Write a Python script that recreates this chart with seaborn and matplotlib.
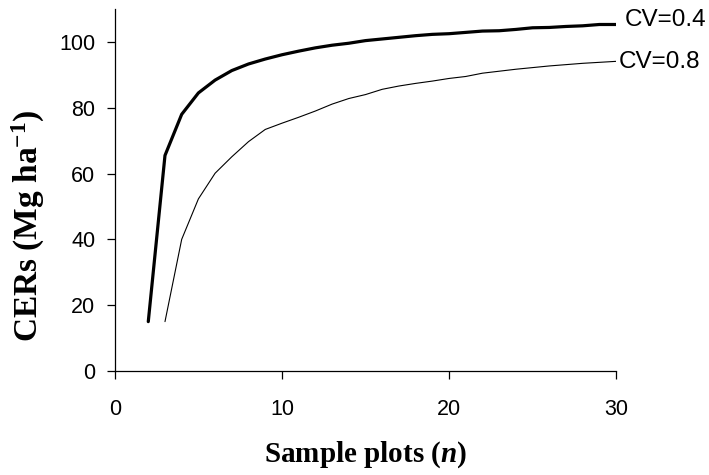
import matplotlib
matplotlib.use("Agg")
import matplotlib.pyplot as plt
import seaborn as sns
import pandas as pd

# Data
n_cv04 = list(range(2, 31))
cers_cv04 = [15, 65.5, 78, 84.5, 88.4, 91.3, 93.3, 94.8, 96.1, 97.2, 98.2, 99.0,
             99.6, 100.4, 100.9, 101.4, 101.9, 102.3, 102.5, 102.9, 103.3, 103.4,
             103.8, 104.3, 104.4, 104.7, 104.9, 105.3, 105.3]
n_cv08 = list(range(3, 31))
cers_cv08 = [15, 40, 52.3, 60.1, 65.1, 69.7, 73.4, 75.3, 77.1, 79.0, 81.1, 82.8,
             84.0, 85.6, 86.6, 87.4, 88.1, 88.9, 89.5, 90.5, 91.1, 91.7, 92.2,
             92.7, 93.1, 93.5, 93.8, 94.1]
series_labels = ["CV=0.4", "CV=0.8"]
x_ticks = [0, 10, 20, 30]
y_ticks = [0, 20, 40, 60, 80, 100]

sns.set_theme(style="ticks")
plt.rcParams["font.family"] = ["Liberation Sans", "DejaVu Sans"]
plt.rcParams["text.color"] = "black"
plt.rcParams["axes.labelcolor"] = "black"
plt.rcParams["mathtext.fontset"] = "custom"
plt.rcParams["mathtext.rm"] = "Liberation Serif:bold"
plt.rcParams["mathtext.bf"] = "Liberation Serif:bold"
plt.rcParams["mathtext.it"] = "Liberation Serif:bold:italic"

df04 = pd.DataFrame({"n": n_cv04, "CERs": cers_cv04})
df08 = pd.DataFrame({"n": n_cv08, "CERs": cers_cv08})

fig = plt.figure(figsize=(7.09, 4.75), dpi=100)
ax = fig.add_axes([0.162, 0.219, 0.707, 0.762])

sns.lineplot(data=df04, x="n", y="CERs", ax=ax, color="black", linewidth=2.3)
sns.lineplot(data=df08, x="n", y="CERs", ax=ax, color="black", linewidth=0.8)

ax.set_xlim(0, 30)
ax.set_ylim(0, 110)
ax.set_xticks(x_ticks)
ax.set_yticks(y_ticks)
ax.tick_params(axis="both", direction="out", length=6, width=0.9, color="black",
               labelsize=15.5, labelcolor="black")
ax.tick_params(axis="x", pad=14)
ax.tick_params(axis="y", pad=8)
for side in ["top", "right"]:
    ax.spines[side].set_visible(False)
for side in ["left", "bottom"]:
    ax.spines[side].set_color("black")
    ax.spines[side].set_linewidth(0.9)

ax.set_xlabel(r"Sample plots ($\mathit{n}$)", fontsize=21, family="Liberation Serif",
              fontweight="bold", labelpad=14, color="black")
ax.set_ylabel(r"CERs (Mg ha$^{\mathbf{-1}}$)", fontsize=24, family="Liberation Serif",
              fontweight="bold", color="black")
ax.yaxis.set_label_coords(-0.135, 0.40)

ax.annotate(series_labels[0], xy=(n_cv04[-1], cers_cv04[-1]), xytext=(6, 3),
            textcoords="offset points", fontsize=17.5, va="center", ha="left",
            annotation_clip=False)
ax.annotate(series_labels[1], xy=(n_cv08[-1], cers_cv08[-1]), xytext=(2, -0.5),
            textcoords="offset points", fontsize=17.5, va="center", ha="left",
            annotation_clip=False)

fig.savefig("out.png", dpi=100)
